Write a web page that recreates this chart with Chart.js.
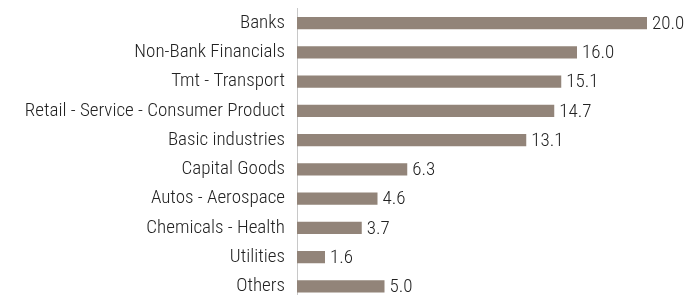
<!DOCTYPE html>
<html>
<head>
<meta charset="utf-8">
<script src="https://cdn.jsdelivr.net/npm/chart.js@4/dist/chart.umd.min.js"></script>
<style>
  html, body { margin: 0; padding: 0; background: #fff; overflow: hidden; }
  #wrap { position: relative; width: 687px; height: 301px; }
</style>
</head>
<body>
<div id="wrap"><canvas id="chart"></canvas></div>
<script>
// Sectors and weights (%)
const sectors = [
    "Banks",
    "Non-Bank Financials",
    "Tmt - Transport",
    "Retail - Service - Consumer Product",
    "Basic industries",
    "Capital Goods",
    "Autos - Aerospace",
    "Chemicals - Health",
    "Utilities",
    "Others",
];
const weights = [20.0, 16.0, 15.1, 14.7, 13.1, 6.3, 4.6, 3.7, 1.6, 5.0];

const fontFamily = "'Roboto Condensed', 'Liberation Sans Narrow', sans-serif";
const textColor = "#222222";

// value labels at the end of each bar
const barValues = {
    id: "barValues",
    afterDatasetsDraw(chart) {
        const ctx = chart.ctx;
        const meta = chart.getDatasetMeta(0);
        ctx.save();
        ctx.font = "300 19px " + fontFamily;
        ctx.fillStyle = textColor;
        ctx.textAlign = "left";
        ctx.textBaseline = "middle";
        meta.data.forEach((bar, i) => {
            ctx.fillText(weights[i].toFixed(1), bar.x + 5, bar.y + 1);
        });
        ctx.restore();
    },
};

new Chart(document.getElementById("chart"), {
    type: "bar",
    plugins: [barValues],
    data: {
        labels: sectors,
        datasets: [{
            data: weights,
            backgroundColor: "#928479",
            borderWidth: 0,
            barPercentage: 0.42,
            categoryPercentage: 1,
        }],
    },
    options: {
        indexAxis: "y",
        responsive: true,
        maintainAspectRatio: false,
        animation: false,
        layout: { padding: { top: 8.5, right: 40, left: 0, bottom: 0 } },
        plugins: {
            legend: { display: false },
            tooltip: { enabled: false },
        },
        scales: {
            x: {
                display: false,
                min: 0,
                max: 20,
            },
            y: {
                afterFit(scale) {
                    scale.width = 297;
                    scale.paddingTop = 0;
                    scale.paddingBottom = 0;
                },
                grid: { display: false, drawTicks: false },
                border: { display: true, color: "#c8c8c8", width: 1 },
                ticks: {
                    padding: 12,
                    color: textColor,
                    font: { family: fontFamily, size: 19, weight: 300 },
                },
            },
        },
    },
});
</script>
</body>
</html>
